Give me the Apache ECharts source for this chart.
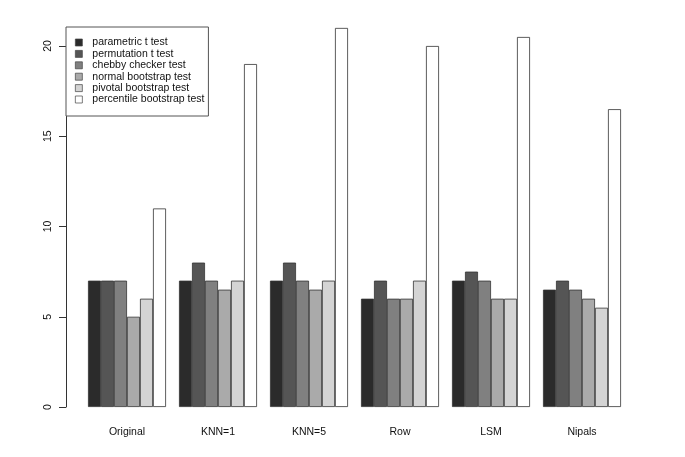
<!DOCTYPE html>
<html>
<head>
<meta charset="utf-8">
<script src="https://cdn.jsdelivr.net/npm/echarts@6/dist/echarts.min.js"></script>
<style>html,body{margin:0;padding:0;background:#fff;}#c{width:685px;height:457px;}</style>
</head>
<body>
<div id="c"></div>
<script>
var categories = ['Original', 'KNN=1', 'KNN=5', 'Row', 'LSM', 'Nipals'];
var seriesNames = ['parametric t test', 'permutation t test', 'chebby checker test', 'normal bootstrap test', 'pivotal bootstrap test', 'percentile bootstrap test'];
var parametric = [7, 7, 7, 6, 7, 6.5];
var permutation = [7, 8, 8, 7, 7.5, 7];
var chebby = [7, 7, 7, 6, 7, 6.5];
var normalBoot = [5, 6.5, 6.5, 6, 6, 6];
var pivotalBoot = [6, 7, 7, 7, 6, 5.5];
var percentileBoot = [11, 19, 21, 20, 20.5, 16.5];
var yTicks = [0, 5, 10, 15, 20];

var colors = ['#2b2b2b', '#555555', '#808080', '#aaaaaa', '#d4d4d4', '#ffffff'];
var values = [parametric, permutation, chebby, normalBoot, pivotalBoot, percentileBoot];
var font = 'Liberation Sans, Arial, sans-serif';

var chart = echarts.init(document.getElementById('c'), null, {renderer: 'canvas'});
var series = seriesNames.map(function (n, i) {
  return {
    name: n,
    type: 'bar',
    data: values[i],
    clip: false,
    barGap: '0%',
    barCategoryGap: (100 / 7) + '%',
    itemStyle: {color: colors[i], borderColor: '#333', borderWidth: 0.8},
    emphasis: {disabled: true}
  };
});
chart.setOption({
  animation: false,
  backgroundColor: '#fff',
  grid: {left: 81.5, width: 546, top: 46, height: 361},
  xAxis: {
    type: 'category',
    data: categories,
    axisLine: {show: false},
    axisTick: {show: false},
    axisLabel: {margin: 20, fontSize: 10.5, color: '#111', fontFamily: font}
  },
  yAxis: {
    type: 'value',
    min: yTicks[0],
    max: yTicks[yTicks.length - 1],
    interval: 5,
    offset: 15.5,
    axisLine: {show: true, lineStyle: {color: '#333', width: 1}},
    axisTick: {show: true, length: 7, lineStyle: {color: '#333'}},
    splitLine: {show: false},
    axisLabel: {rotate: 90, margin: 12, fontSize: 10.5, color: '#111', fontFamily: font,
      formatter: function (v) { return yTicks.indexOf(v) >= 0 ? String(v) : ''; }}
  },
  legend: {
    orient: 'vertical',
    left: 66,
    top: 27,
    padding: [10, 4, 11, 9],
    itemWidth: 7,
    itemHeight: 7,
    itemGap: 0.4,
    icon: 'rect',
    itemStyle: {borderColor: '#444', borderWidth: 0.7},
    backgroundColor: '#fff',
    borderColor: '#555',
    borderWidth: 1,
    borderRadius: 0,
    textStyle: {fontSize: 10.5, lineHeight: 10, color: '#111', fontFamily: font, padding: [0, 0, 0, 5]},
    data: seriesNames
  },
  series: series
});
</script>
</body>
</html>
